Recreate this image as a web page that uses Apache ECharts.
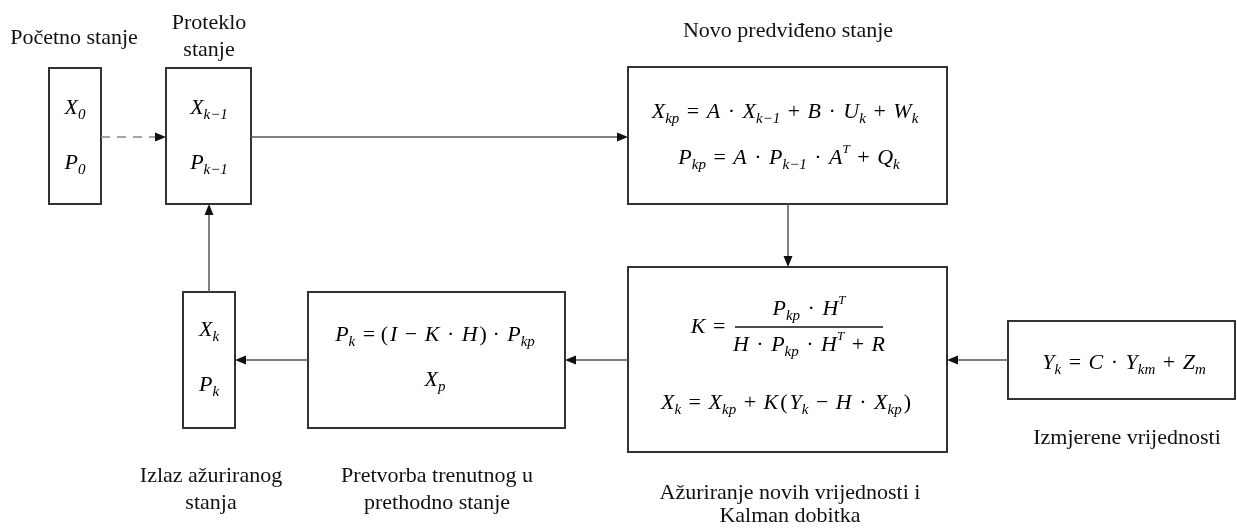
<!DOCTYPE html>
<html>
<head>
<meta charset="utf-8">
<script src="https://cdn.jsdelivr.net/npm/echarts@6/dist/echarts.min.js"></script>
<style>
  html, body { margin: 0; padding: 0; background: #fff; }
  #chart { width: 1237px; height: 531px; }
</style>
</head>
<body>
<div id="chart"></div>
<script>
// diagram blocks: [left, top, right, bottom]
const boxes = [
  [49, 68, 101, 204],     // pocetno stanje
  [166, 68, 251, 204],    // proteklo stanje
  [628, 67, 947, 204],    // novo predvideno stanje
  [628, 267, 947, 452],   // azuriranje / Kalman
  [1008, 321, 1235, 399], // izmjerene vrijednosti
  [308, 292, 565, 428],   // pretvorba
  [183, 292, 235, 428]    // izlaz
];
// connectors: [x1, y1, x2, y2, dashed]
const arrows = [
  [101, 137, 166, 137, 1],
  [251, 137, 628, 137, 0],
  [788, 204, 788, 267, 0],
  [1008, 360, 947, 360, 0],
  [628, 360, 565, 360, 0],
  [308, 360, 235, 360, 0],
  [209, 292, 209, 204, 0]
];
const captions = [
  ['Početno stanje', 74, 38],
  ['Proteklo', 209, 23],
  ['stanje', 209, 50],
  ['Novo predviđeno stanje', 788, 31],
  ['Izmjerene vrijednosti', 1127, 438],
  ['Izlaz ažuriranog', 211, 476],
  ['stanja', 211, 503],
  ['Pretvorba trenutnog u', 437, 476],
  ['prethodno stanje', 437, 503],
  ['Ažuriranje novih vrijednosti i', 790, 493],
  ['Kalman dobitka', 790, 516]
];
const formulas = [
  ['X_{0}', 75, 108],
  ['P_{0}', 75, 163],
  ['X_{k−1}', 209, 108],
  ['P_{k−1}', 209, 163],
  ['X_{kp} = A · X_{k−1} + B · U_{k} + W_{k}', 785, 112],
  ['P_{kp} = A · P_{k−1} · A^{T} + Q_{k}', 789, 158],
  ['K =', 709, 327],
  ['P_{kp} · H^{T}', 809, 309],
  ['H · P_{kp} · H^{T} + R', 809, 345],
  ['X_{k} = X_{kp} + K(Y_{k} − H · X_{kp})', 787, 403],
  ['Y_{k} = C · Y_{km} + Z_{m}', 1124, 363],
  ['P_{k} = (I − K · H) · P_{kp}', 435, 335],
  ['X_{p}', 435, 380],
  ['X_{k}', 209, 330],
  ['P_{k}', 209, 385]
];
// fraction bar: [x1, x2, y]
const fractionBars = [[735, 883, 327]];

const serif = '"Liberation Serif", "DejaVu Serif", serif';
const mathRich = {
  m: { fontFamily: serif, fontStyle: 'italic', fontSize: 22, lineHeight: 30, color: '#111' },
  o: { fontFamily: serif, fontSize: 22, lineHeight: 30, color: '#111', padding: [0, 2] },
  s: { fontFamily: serif, fontStyle: 'italic', fontSize: 15, lineHeight: 14, verticalAlign: 'bottom', color: '#111' },
  p: { fontFamily: serif, fontStyle: 'italic', fontSize: 13, lineHeight: 14, verticalAlign: 'top', color: '#111' }
};

// turn "X_{kp} = A^{T}" into rich text tokens
function toRich(src) {
  let out = '';
  let i = 0;
  while (i < src.length) {
    const c = src[i];
    if ((c === '_' || c === '^') && src[i + 1] === '{') {
      const end = src.indexOf('}', i);
      out += '{' + (c === '_' ? 's' : 'p') + '|' + src.slice(i + 2, end) + '}';
      i = end + 1;
    } else {
      let j = i;
      while (j < src.length && !((src[j] === '_' || src[j] === '^') && src[j + 1] === '{')) j++;
      const chunk = src.slice(i, j);
      chunk.replace(/([A-Za-z]+)|([^A-Za-z]+)/g, function (m, a) {
        out += '{' + (a ? 'm' : 'o') + '|' + m + '}';
        return m;
      });
      i = j;
    }
  }
  return out;
}

const chart = echarts.init(document.getElementById('chart'));
const option = {
  backgroundColor: '#fff',
  animation: false,
  grid: { left: 0, right: 0, top: 0, bottom: 0 },
  xAxis: { type: 'value', min: 0, max: 1237, show: false },
  yAxis: { type: 'value', min: 0, max: 531, inverse: true, show: false },
  series: [
    {
      type: 'custom',
      name: 'boxes',
      data: boxes,
      renderItem: function (params, api) {
        const b = boxes[params.dataIndex];
        const p0 = api.coord([b[0], b[1]]);
        const p1 = api.coord([b[2], b[3]]);
        return {
          type: 'rect',
          shape: {
            x: Math.min(p0[0], p1[0]), y: Math.min(p0[1], p1[1]),
            width: Math.abs(p1[0] - p0[0]), height: Math.abs(p1[1] - p0[1])
          },
          style: { fill: '#fff', stroke: '#333', lineWidth: 2 }
        };
      }
    },
    {
      type: 'custom',
      name: 'arrows',
      data: arrows.map(a => [a[0], a[1]]),
      renderItem: function (params, api) {
        const a = arrows[params.dataIndex];
        const p0 = api.coord([a[0], a[1]]);
        const p1 = api.coord([a[2], a[3]]);
        const len = Math.hypot(p1[0] - p0[0], p1[1] - p0[1]);
        const dx = (p1[0] - p0[0]) / len, dy = (p1[1] - p0[1]) / len;
        const head = 11, half = 4.5;
        const bx = p1[0] - dx * head, by = p1[1] - dy * head;
        return {
          type: 'group',
          children: [
            {
              type: 'line',
              shape: { x1: p0[0], y1: p0[1], x2: bx, y2: by },
              style: {
                stroke: a[4] ? '#888' : '#555', lineWidth: 1.5,
                lineDash: a[4] ? [9, 7] : null
              }
            },
            {
              type: 'polygon',
              shape: { points: [[p1[0], p1[1]], [bx - dy * half, by + dx * half], [bx + dy * half, by - dx * half]] },
              style: { fill: '#111' }
            }
          ]
        };
      }
    },
    {
      type: 'custom',
      name: 'fraction',
      data: fractionBars.map(f => [f[0], f[2]]),
      renderItem: function (params, api) {
        const f = fractionBars[params.dataIndex];
        const p0 = api.coord([f[0], f[2]]);
        const p1 = api.coord([f[1], f[2]]);
        return {
          type: 'line',
          shape: { x1: p0[0], y1: p0[1], x2: p1[0], y2: p1[1] },
          style: { stroke: '#111', lineWidth: 1.5 }
        };
      }
    },
    {
      type: 'custom',
      name: 'formulas',
      data: formulas.map(f => [f[1], f[2]]),
      renderItem: function (params, api) {
        const f = formulas[params.dataIndex];
        const p = api.coord([f[1], f[2]]);
        return {
          type: 'text',
          x: p[0], y: p[1],
          style: {
            text: toRich(f[0]), rich: mathRich,
            align: 'center', verticalAlign: 'middle'
          }
        };
      }
    },
    {
      type: 'custom',
      name: 'captions',
      data: captions.map(c => [c[1], c[2]]),
      renderItem: function (params, api) {
        const c = captions[params.dataIndex];
        const p = api.coord([c[1], c[2]]);
        return {
          type: 'text',
          x: p[0], y: p[1],
          style: {
            text: c[0], fill: '#111',
            font: '22px ' + serif,
            align: 'center', verticalAlign: 'middle'
          }
        };
      }
    }
  ]
};
chart.setOption(option);
</script>
</body>
</html>
